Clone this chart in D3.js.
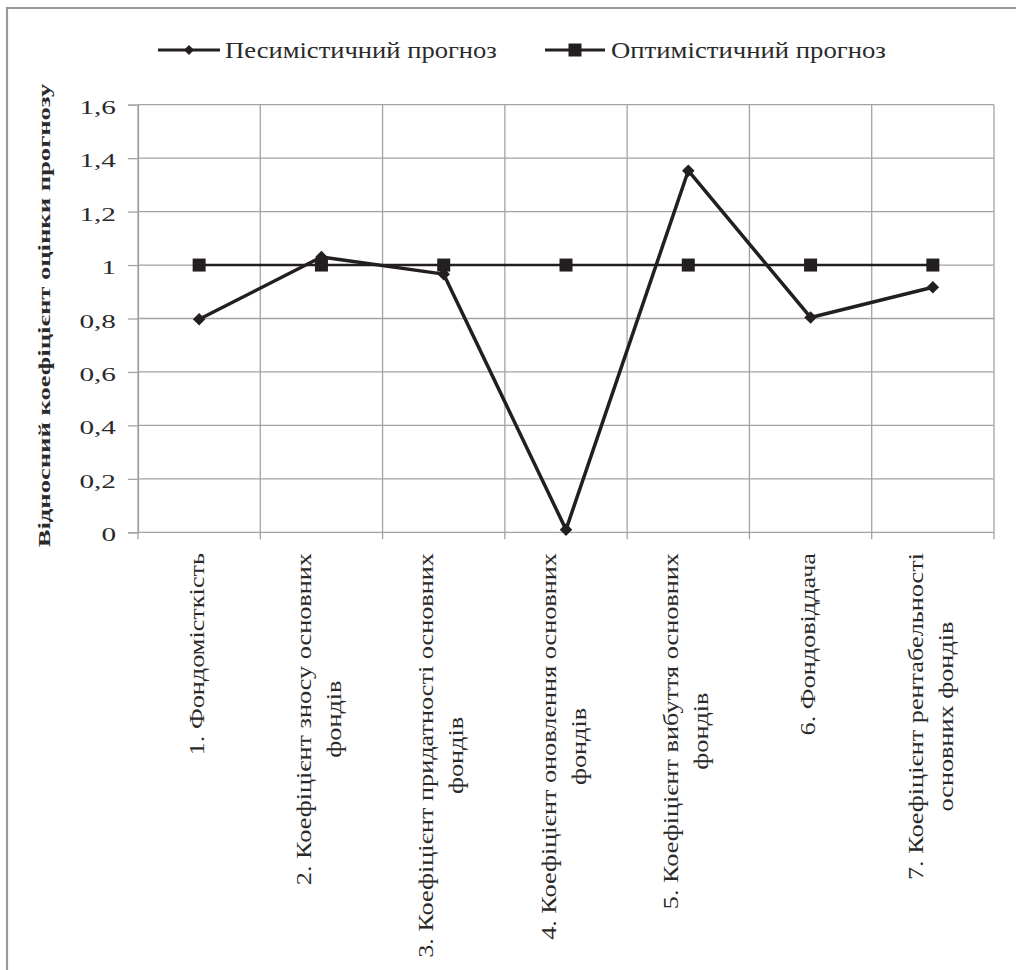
<!DOCTYPE html>
<html>
<head>
<meta charset="utf-8">
<script src="https://cdn.jsdelivr.net/npm/d3@7"></script>
<style>
  html, body { margin: 0; padding: 0; background: #fff; }
  svg { display: block; }
</style>
</head>
<body>
<svg id="chart" width="1016" height="970"></svg>
<script>
// ---- data ----
const categories = [
  ["1. Фондомісткість"],
  ["2. Коефіцієнт зносу основних", "фондів"],
  ["3. Коефіцієнт придатності основних", "фондів"],
  ["4. Коефіцієнт оновлення основних", "фондів"],
  ["5. Коефіцієнт вибуття основних", "фондів"],
  ["6. Фондовіддача"],
  ["7. Коефіцієнт рентабельності", "основних фондів"]
];
const pessimistic = [0.797, 1.03, 0.966, 0.01, 1.353, 0.804, 0.917];
const optimistic  = [1, 1, 1, 1, 1, 1, 1];
const seriesNames = ["Песимістичний прогноз", "Оптимістичний прогноз"];
const yTicks = [0, 0.2, 0.4, 0.6, 0.8, 1, 1.2, 1.4, 1.6];
const yTickLabels = ["0", "0,2", "0,4", "0,6", "0,8", "1", "1,2", "1,4", "1,6"];
const yTitle = "Відносний коефіцієнт  оцінки прогнозу";

(function () {
// ---- layout ----
const pL = 138, pR = 994, pT = 104.7, pB = 532.3;
const ink = "#231f20", grid = "#a3a3a3", txt = "#2a2a2a";
const FONT = "Liberation Serif";

const svg = d3.select("#chart");

// outer frame
svg.append("path")
  .attr("d", "M7,975 L7,8 L1016,8")
  .attr("fill", "none").attr("stroke", "#9a9a9a").attr("stroke-width", 2.2);

const x = d3.scaleBand().domain(d3.range(categories.length)).range([pL, pR]).padding(0);
const y = d3.scaleLinear().domain([0, 1.6]).range([pB, pT]);
const xc = i => x(i) + x.bandwidth() / 2;

// y axis (ticks outside, labels)
const yAxis = d3.axisLeft(y).tickValues(yTicks).tickSize(10).tickFormat((d, i) => yTickLabels[i]);
const gy = svg.append("g").attr("transform", `translate(${pL},0)`).call(yAxis);
gy.select(".domain").attr("stroke", grid).attr("stroke-width", 1.3);
gy.selectAll(".tick line").attr("stroke", grid).attr("stroke-width", 1.3);
gy.selectAll(".tick text").remove();
gy.selectAll(".tick").append("text")
  .attr("transform", `translate(-22,8.5) scale(1.5,1)`)
  .attr("text-anchor", "end")
  .attr("font-family", FONT).attr("font-size", 19.5).attr("fill", txt)
  .text((d, i) => yTickLabels[i]);

// horizontal gridlines
svg.append("g").selectAll("line").data(yTicks).join("line")
  .attr("x1", pL).attr("x2", pR)
  .attr("y1", d => y(d)).attr("y2", d => y(d))
  .attr("stroke", grid).attr("stroke-width", 1.3);

// vertical gridlines at category boundaries + x ticks
const bounds = d3.range(categories.length + 1).map(i => i < categories.length ? x(i) : x(i - 1) + x.bandwidth());
svg.append("g").selectAll("line").data(bounds).join("line")
  .attr("x1", d => d).attr("x2", d => d)
  .attr("y1", pT).attr("y2", pB + 7)
  .attr("stroke", grid).attr("stroke-width", 1.3);

// x labels (rotated, centred lines, block anchored at top)
const FS = 21, LH = 30, SL = 1.25, labelTop = 553;
const lg = svg.append("g");
categories.forEach((lines, i) => {
  const g = lg.append("g");
  const texts = lines.map(s => g.append("text")
    .attr("font-family", FONT).attr("font-size", FS).attr("fill", txt).text(s));
  const L = d3.max(texts, t => t.node().getComputedTextLength());
  g.attr("transform", `translate(${xc(i) - 2},${labelTop}) rotate(-90) scale(${SL},1)`);
  texts.forEach((t, j) => {
    t.attr("text-anchor", "middle")
     .attr("x", -L / 2)
     .attr("y", (j - (lines.length - 1) / 2) * LH)
     .attr("dy", "0.32em");
  });
});

// y title
const yt = svg.append("text")
  .attr("font-family", FONT).attr("font-size", 17).attr("font-weight", "bold").attr("fill", txt)
  .attr("text-anchor", "middle").attr("dy", "0.32em")
  .text(yTitle);
const tw = yt.node().getComputedTextLength();
yt.attr("transform", `translate(45,315.5) rotate(-90) scale(${464 / tw},1)`);

// lines
const line = d3.line().x((d, i) => xc(i)).y(d => y(d));
svg.append("path").datum(optimistic).attr("d", line)
  .attr("fill", "none").attr("stroke", ink).attr("stroke-width", 2.5);
svg.append("g").selectAll("rect").data(optimistic).join("rect")
  .attr("x", (d, i) => xc(i) - 6.5).attr("y", d => y(d) - 6.5)
  .attr("width", 13).attr("height", 13).attr("fill", ink);

svg.append("path").datum(pessimistic).attr("d", line)
  .attr("fill", "none").attr("stroke", ink).attr("stroke-width", 3.5).attr("stroke-linejoin", "round");
const diamond = d3.symbol().type(d3.symbolDiamond2).size(100);
svg.append("g").selectAll("path").data(pessimistic).join("path")
  .attr("d", diamond)
  .attr("transform", (d, i) => `translate(${xc(i)},${y(d)})`)
  .attr("fill", ink);

// legend
const legend = [
  { name: seriesNames[0], x0: 158, x1: 220, tx: 225, w: 272, marker: "diamond" },
  { name: seriesNames[1], x0: 545, x1: 605, tx: 611, w: 275, marker: "square" }
];
const ly = 50;
legend.forEach(l => {
  svg.append("line").attr("x1", l.x0).attr("x2", l.x1).attr("y1", ly).attr("y2", ly)
    .attr("stroke", ink).attr("stroke-width", 3);
  const mx = (l.x0 + l.x1) / 2;
  if (l.marker === "square") {
    svg.append("rect").attr("x", mx - 6.5).attr("y", ly - 6.5).attr("width", 13).attr("height", 13).attr("fill", ink);
  } else {
    svg.append("path").attr("d", d3.symbol().type(d3.symbolDiamond2).size(64))
      .attr("transform", `translate(${mx},${ly})`).attr("fill", ink);
  }
  const t = svg.append("text").attr("font-family", FONT).attr("font-size", 23.5).attr("fill", txt).text(l.name);
  const w = t.node().getComputedTextLength();
  t.attr("transform", `translate(${l.tx},58) scale(${l.w / w},1)`);
});
})();
</script>
</body>
</html>
